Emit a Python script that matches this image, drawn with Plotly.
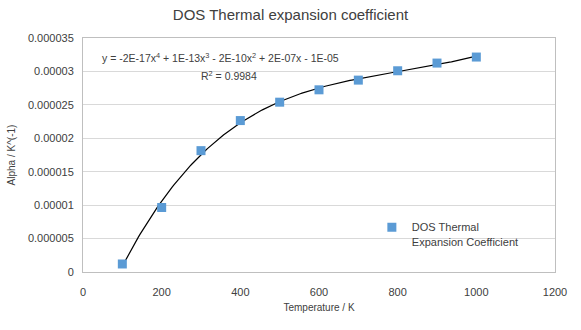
import numpy as np
import plotly.graph_objects as go

# Temperature (K) and DOS thermal expansion coefficient (1/K)
temperature = [100, 200, 300, 400, 500, 600, 700, 800, 900, 1000]
alpha = [1.2e-6, 9.65e-6, 18.15e-6, 22.65e-6, 25.4e-6, 27.25e-6, 28.7e-6, 30.1e-6, 31.25e-6, 32.15e-6]

y_tickvals = [0, 5e-6, 10e-6, 15e-6, 20e-6, 25e-6, 30e-6, 35e-6]
y_ticktext = ["0", "0.000005", "0.00001", "0.000015", "0.00002", "0.000025", "0.00003", "0.000035"]
x_tickvals = [0, 200, 400, 600, 800, 1000, 1200]

equation_text = "y = -2E-17x<sup>4</sup> + 1E-13x<sup>3</sup> - 2E-10x<sup>2</sup> + 2E-07x - 1E-05"
r2_text = "R<sup>2</sup> = 0.9984"

# 4th-order polynomial trendline through the data
coeffs = np.polyfit(temperature, alpha, 4)
x_fit = np.linspace(min(temperature), max(temperature), 200)
y_fit = np.polyval(coeffs, x_fit)

FONT = "Liberation Sans"
GRID = "#D9D9D9"
TXT = "#404040"

fig = go.Figure()
fig.add_trace(go.Scatter(
    x=x_fit, y=y_fit, mode="lines",
    line=dict(color="black", width=1.2),
    showlegend=False, hoverinfo="skip",
))
fig.add_trace(go.Scatter(
    x=temperature, y=alpha, mode="markers",
    marker=dict(symbol="square", size=9, color="#5B9BD5"),
    name="DOS Thermal<br>Expansion Coefficient",
))

fig.update_layout(
    width=581, height=330,
    margin=dict(l=83, r=26, t=38, b=58),
    paper_bgcolor="white", plot_bgcolor="white",
    font=dict(family=FONT, size=11, color=TXT),
    title=dict(
        text="DOS Thermal expansion coefficient",
        x=0.5, xanchor="center", y=0.955, yanchor="middle",
        font=dict(family=FONT, size=15, color="#404040"),
    ),
    legend=dict(
        x=0.612, y=0.25, xanchor="left", yanchor="top",
        bgcolor="rgba(0,0,0,0)", valign="top",
        font=dict(family=FONT, size=11, color=TXT),
        itemwidth=30, tracegroupgap=0,
    ),
    xaxis=dict(
        range=[0, 1200], tickvals=x_tickvals,
        showgrid=False, zeroline=False,
        showline=True, linecolor="#BFBFBF", linewidth=1, mirror=True,
        ticks="", ticklabelstandoff=10,
        title=dict(text="Temperature / K", font=dict(family=FONT, size=10, color=TXT), standoff=6),
    ),
    yaxis=dict(
        range=[0, 35e-6], tickvals=y_tickvals, ticktext=y_ticktext,
        showgrid=True, gridcolor=GRID, gridwidth=1, zeroline=False,
        showline=True, linecolor="#BFBFBF", linewidth=1, mirror=True,
        ticks="", ticklabelstandoff=6,
        title=dict(text="Alpha / K^(-1)", font=dict(family=FONT, size=10, color=TXT), standoff=10),
    ),
)

fig.add_annotation(
    x=100, y=57, xref="paper", yref="paper", xanchor="left", yanchor="middle",
    text=equation_text, showarrow=False,
    font=dict(family=FONT, size=10.5, color=TXT),
)
fig.add_annotation(
    x=199, y=75, xref="paper", yref="paper", xanchor="left", yanchor="middle",
    text=r2_text, showarrow=False,
    font=dict(family=FONT, size=10.5, color=TXT),
)

# place the trendline labels in pixel terms relative to the plot area
for ann in fig.layout.annotations:
    px, py = ann.x, ann.y
    ann.x = (px - 83) / (581 - 83 - 26)
    ann.y = 1 - (py - 38) / (330 - 38 - 58)

fig.write_html("out.html")
